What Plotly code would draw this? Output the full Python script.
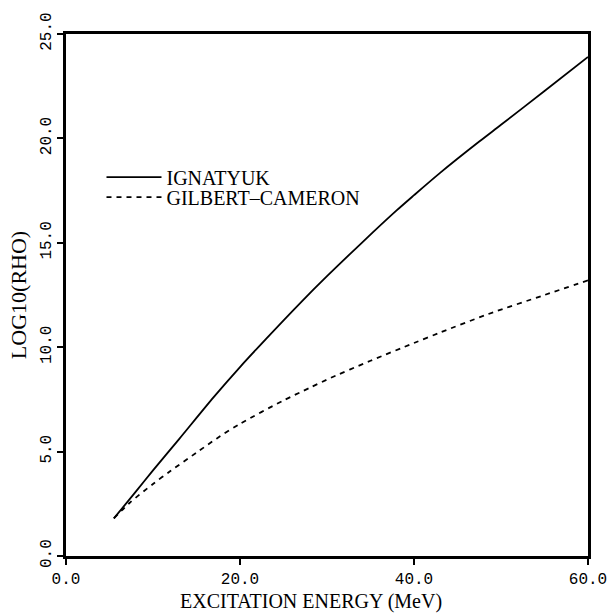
import plotly.graph_objects as go

# Excitation energy (MeV) and log10 level density
energy_ign = [5.5, 8, 10, 13, 17, 20, 23, 27, 30, 34, 38, 40, 43, 47.5, 50, 55, 60]
rho_ign = [1.8, 3.07, 4.1, 5.6, 7.62, 9.05, 10.4, 12.15, 13.4, 15.0, 16.55, 17.28, 18.35, 19.85, 20.65, 22.27, 23.9]

energy_gc = [5.5, 7.3, 10, 12, 15, 17.3, 20, 25, 28, 30, 35, 40, 43, 48.5, 55, 60]
rho_gc = [1.8, 2.54, 3.45, 4.07, 4.95, 5.62, 6.33, 7.45, 8.05, 8.45, 9.35, 10.2, 10.7, 11.58, 12.5, 13.2]

x_ticks = [0, 20, 40, 60]
x_labels = ["0.0", "20.0", "40.0", "60.0"]
y_ticks = [0, 5, 10, 15, 20, 25]
y_labels = ["0.0", "5.0", "10.0", "15.0", "20.0", "25.0"]
x_title = "EXCITATION ENERGY (MeV)"
y_title = "LOG10(RHO)"

fig = go.Figure()
fig.add_trace(go.Scatter(x=energy_ign, y=rho_ign, mode="lines", name="IGNATYUK",
                         legend="legend",
                         line=dict(color="black", width=1.8, shape="spline", smoothing=0.8)))
fig.add_trace(go.Scatter(x=energy_gc, y=rho_gc, mode="lines", name="GILBERT\u2013CAMERON",
                         legend="legend2",
                         line=dict(color="black", width=1.8, dash="5px,5px", shape="spline", smoothing=0.8)))

axis_common = dict(showline=True, linecolor="black", linewidth=2.5, mirror=True,
                   ticks="outside", ticklen=6, tickwidth=1.5, tickcolor="black",
                   showgrid=False, zeroline=False, automargin=False,
                   tickfont=dict(family="Liberation Mono", size=16, color="black"))

legend_common = dict(xanchor="left", yanchor="middle", bgcolor="rgba(0,0,0,0)",
                     borderwidth=0, itemwidth=55,
                     font=dict(family="Liberation Serif", size=20, color="black"))

fig.update_layout(
    width=615, height=615,
    margin=dict(l=66, r=27, t=34, b=59),
    paper_bgcolor="white", plot_bgcolor="white",
    xaxis=dict(range=[0, 60], tickvals=x_ticks, ticktext=x_labels, **axis_common),
    yaxis=dict(range=[0, 25], tickvals=y_ticks, ticktext=y_labels, tickangle=-90,
               title=dict(text=y_title, standoff=6,
                          font=dict(family="Liberation Serif", size=22, color="black")),
               **axis_common),
    legend=dict(x=0.068, y=0.7257, **legend_common),
    legend2=dict(x=0.068, y=0.6876, **legend_common),
    showlegend=True,
    annotations=[dict(text=x_title, xref="paper", yref="paper", x=0.47, y=-0.111,
                      xanchor="center", yanchor="bottom", showarrow=False, borderpad=0,
                      font=dict(family="Liberation Serif", size=20, color="black"))],
)

fig.write_html("out.html")
